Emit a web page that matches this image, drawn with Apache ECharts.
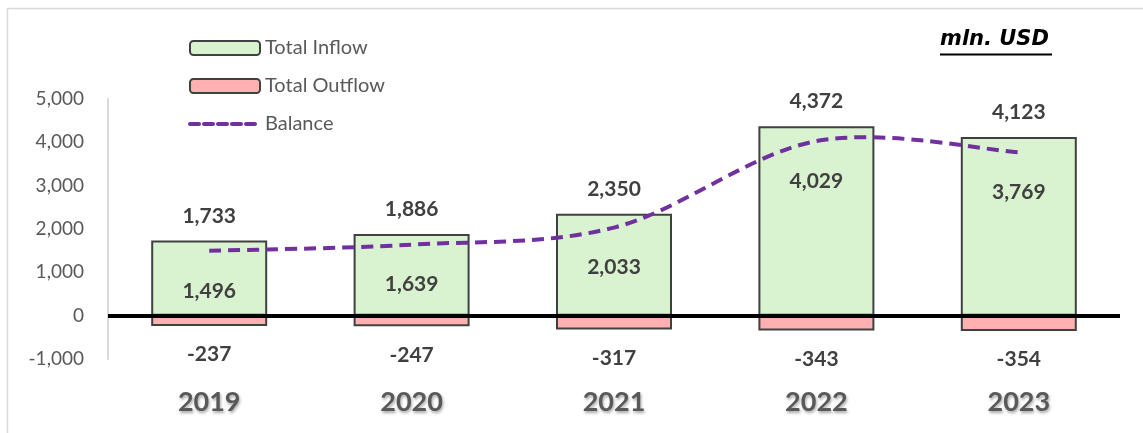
<!DOCTYPE html>
<html>
<head>
<meta charset="utf-8">
<script src="https://cdn.jsdelivr.net/npm/echarts@6/dist/echarts.min.js"></script>
<style>
  html, body { margin: 0; padding: 0; background: #fff; }
  #main { width: 1143px; height: 433px; }
</style>
</head>
<body>
<div id="main"></div>
<script>
// data
var years = ['2019', '2020', '2021', '2022', '2023'];
var inflow = [1733, 1886, 2350, 4372, 4123];
var outflow = [-237, -247, -317, -343, -354];
var balance = [1496, 1639, 2033, 4029, 3769];

var FONT = 'Lato, "Open Sans", sans-serif';
var PURPLE = '#7030A0';

function fmt(v) {
	return echarts.format.addCommas(v);
}

var chart = echarts.init(document.getElementById('main'));

var valueLabel = {
	show: true,
	fontSize: 21,
	fontWeight: 'bold',
	color: '#404040',
	fontFamily: FONT,
	formatter: function (p) { return fmt(p.value); }
};

// Excel style smoothed line (catmull-rom through the points), drawn with the axis scales
function renderBalance(params, api) {
	var i = params.dataIndex;
	var p = api.coord([i, balance[i]]);
	var children = [{
		type: 'text',
		z2: 10,
		style: {
			text: fmt(balance[i]),
			x: p[0],
			y: p[1] + 40,
			align: 'center',
			verticalAlign: 'middle',
			font: 'bold 21px ' + FONT,
			fill: '#404040'
		}
	}];
	if (i === 0) {
		var pts = balance.map(function (v, k) { return api.coord([k, v]); });
		var n = pts.length;
		var tan = pts.map(function (pt, k) {
			var a = pts[Math.max(k - 1, 0)];
			var b = pts[Math.min(k + 1, n - 1)];
			return [(b[0] - a[0]) / 2, (b[1] - a[1]) / 2];
		});
		var d = 'M' + pts[0][0] + ',' + pts[0][1];
		for (var k = 0; k < n - 1; k++) {
			d += ' C' + (pts[k][0] + tan[k][0] / 3) + ',' + (pts[k][1] + tan[k][1] / 3) +
				' ' + (pts[k + 1][0] - tan[k + 1][0] / 3) + ',' + (pts[k + 1][1] - tan[k + 1][1] / 3) +
				' ' + pts[k + 1][0] + ',' + pts[k + 1][1];
		}
		children.push({
			type: 'path',
			shape: { pathData: d },
			style: {
				fill: 'none',
				stroke: PURPLE,
				lineWidth: 4,
				lineDash: [12, 7]
			}
		});
	}
	return { type: 'group', children: children };
}

var option = {
	animation: false,
	backgroundColor: '#fff',
	textStyle: { fontFamily: FONT },
	grid: { left: 108, right: 23, top: 99, bottom: 74 },
	legend: {
		orient: 'vertical',
		left: 183,
		top: 33,
		itemWidth: 70,
		itemHeight: 14,
		itemGap: 18,
		textStyle: { fontSize: 20, lineHeight: 20, color: '#595959', fontFamily: FONT },
		data: [
			'Total Inflow',
			'Total Outflow',
			{
				name: 'Balance',
				itemStyle: { opacity: 0 },
				lineStyle: { width: 4, type: [9, 5], cap: 'round' }
			}
		]
	},
	graphic: [
		{
			type: 'rect',
			silent: true,
			shape: { x: 7.5, y: 8.5, width: 1160, height: 440 },
			style: { fill: 'none', stroke: '#D9D9D9', lineWidth: 1.5 }
		},
		{
			type: 'text',
			left: 940,
			top: 29,
			style: {
				text: 'mln. USD',
				font: 'italic bold 21px "DejaVu Sans", sans-serif',
				fill: '#000'
			}
		},
		{
			type: 'line',
			shape: { x1: 940, y1: 54.5, x2: 1052, y2: 54.5 },
			style: { stroke: '#000', lineWidth: 2 }
		}
	],
	xAxis: {
		type: 'category',
		data: years,
		axisLine: { show: false },
		axisTick: { show: false },
		axisLabel: {
			margin: 30,
			fontSize: 27,
			fontWeight: 'bold',
			color: '#595959',
			fontFamily: FONT,
			textShadowColor: 'rgba(0,0,0,0.35)',
			textShadowBlur: 3,
			textShadowOffsetX: 1,
			textShadowOffsetY: 2
		}
	},
	yAxis: {
		type: 'value',
		min: -1000,
		max: 5000,
		interval: 1000,
		axisLine: { show: true, lineStyle: { color: '#D9D9D9', width: 2 } },
		axisTick: { show: false },
		splitLine: { show: false },
		axisLabel: {
			margin: 24,
			fontSize: 19,
			color: '#595959',
			fontFamily: FONT,
			formatter: function (v) { return fmt(v); }
		}
	},
	series: [
		{
			name: 'Total Inflow',
			type: 'bar',
			data: inflow,
			barWidth: 116,
			barGap: '-100%',
			z: 2,
			itemStyle: { color: '#D9F2D0', borderColor: '#404040', borderWidth: 2 },
			label: Object.assign({}, valueLabel, { position: 'top', distance: 14 }),
			markLine: {
				silent: true,
				symbol: 'none',
				label: { show: false },
				lineStyle: { color: '#000', width: 4, type: 'solid' },
				data: [{ yAxis: 0 }],
				z: 5
			}
		},
		{
			name: 'Total Outflow',
			type: 'bar',
			data: outflow,
			barWidth: 116,
			barGap: '-100%',
			z: 2,
			itemStyle: { color: '#FFB0B0', borderColor: '#404040', borderWidth: 2 },
			label: Object.assign({}, valueLabel, { position: 'bottom', distance: 18 })
		},
		{
			// legend entry only, the curve itself is the custom series below
			name: 'Balance',
			type: 'line',
			data: [],
			symbol: 'none',
			lineStyle: { color: PURPLE, width: 4, type: [12, 7] },
			itemStyle: { color: PURPLE }
		},
		{
			name: 'Balance curve',
			type: 'custom',
			data: balance,
			silent: true,
			z: 4,
			renderItem: renderBalance
		}
	]
};

chart.setOption(option);
window.onresize = chart.resize;
</script>
</body>
</html>
